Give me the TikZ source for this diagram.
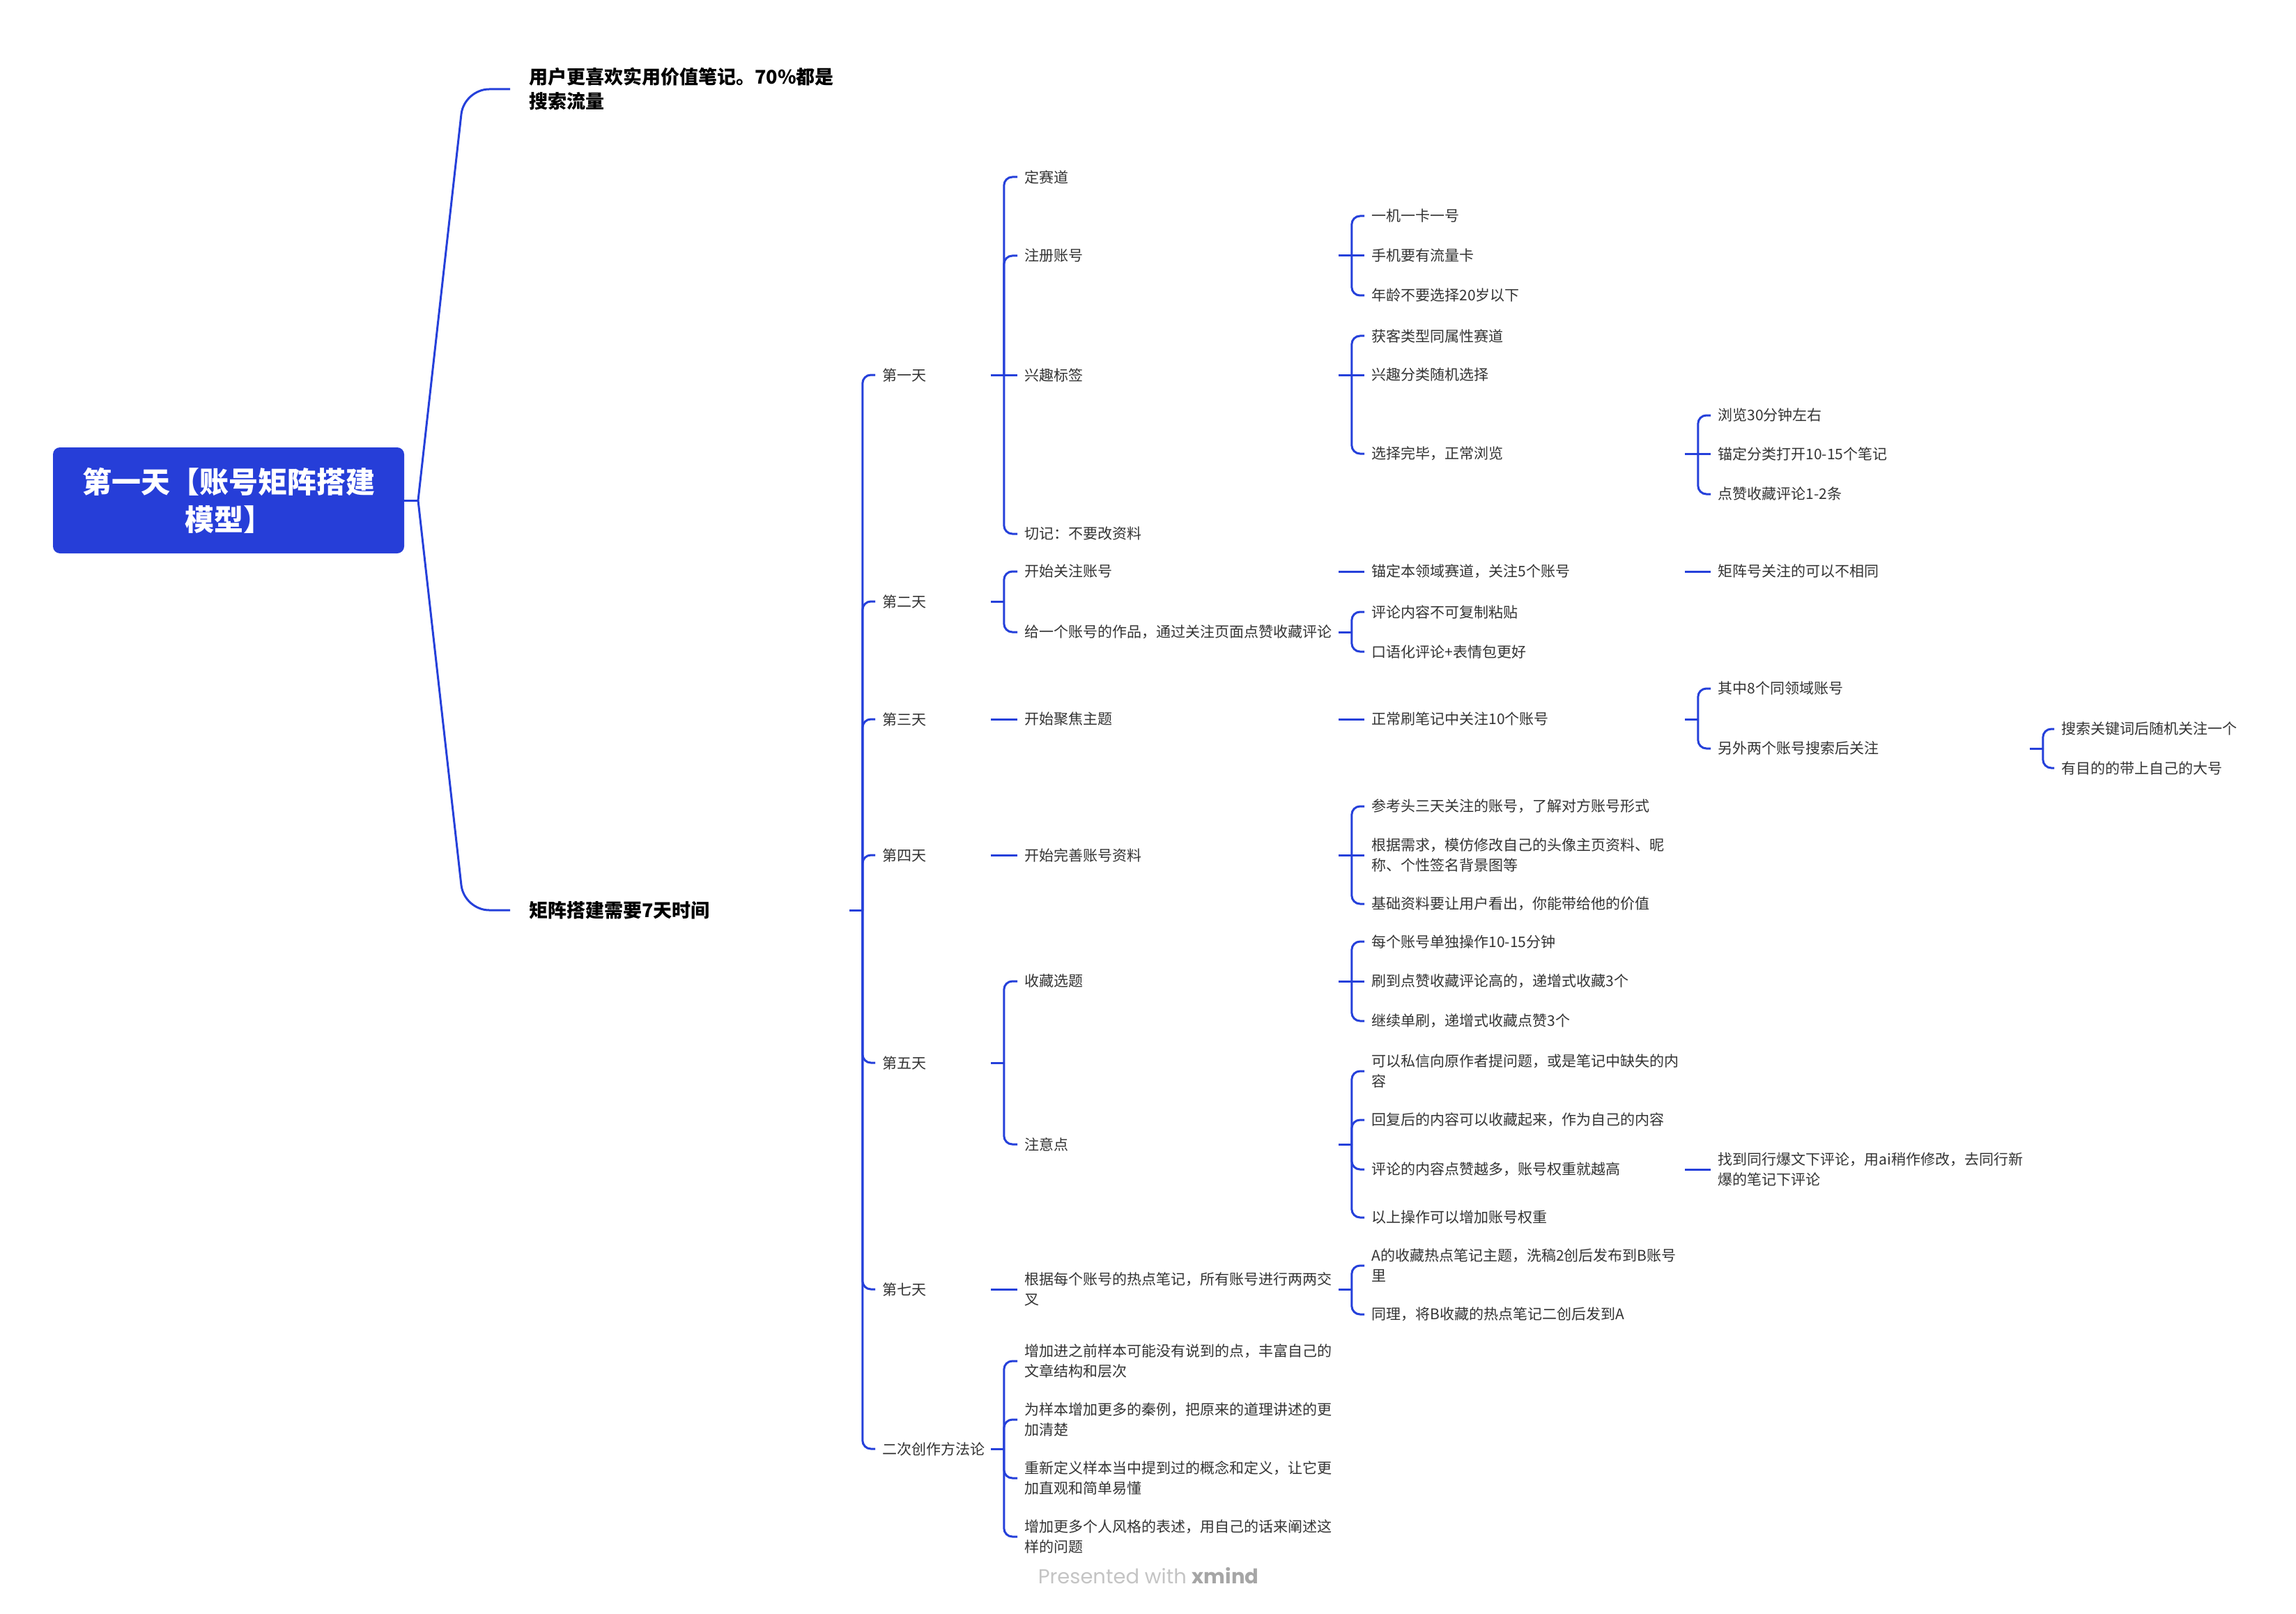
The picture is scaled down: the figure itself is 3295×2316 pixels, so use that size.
\documentclass[tikz,border=0pt]{standalone}
\usepackage{fontspec}
\setmainfont{Noto Sans CJK SC}
\newfontfamily\wmfont{Poppins}
\definecolor{lineblue}{HTML}{2540DA}
\definecolor{rootblue}{HTML}{263ED8}
\definecolor{txtgray}{HTML}{333333}
\definecolor{wmlight}{HTML}{C4C4C4}
\definecolor{wmdark}{HTML}{A6A6A6}
\newcommand\stub[1]{\draw[conn] (#1.east) -- ([xshift=9.5pt]#1.east);}
\newcommand\link[2]{\draw[conn] ([xshift=9.5pt]#1.east) |- (#2.west);}
\newcommand\straight[2]{\draw[conn] (#1.east) -- (#2.west);}
\begin{document}
\begin{tikzpicture}[x=0.5pt,y=-0.5pt,
  conn/.style={draw=lineblue, line width=1.5pt, rounded corners=6pt},
  rootconn/.style={draw=lineblue, line width=1.5pt, rounded corners=18pt},
  root/.style={fill=rootblue, rounded corners=5pt, minimum width=252pt, minimum height=76pt,
    inner sep=0pt, text=white, align=center, font=\bfseries\fontsize{21}{27}\selectfont},
  l1/.style={anchor=west, inner xsep=13.5pt, inner ysep=1pt, text width=216pt, align=left,
    text=black, font=\bfseries\fontsize{13.5}{17.5}\selectfont},
  t/.style={anchor=west, inner xsep=5pt, inner ysep=1pt, align=left, text=txtgray,
    font=\fontsize{10.5}{14.5}\selectfont},
  day/.style={t, text width=72.5pt},
  c3/.style={t, text width=220pt},
  c4/.style={t, text width=219.5pt},
  c5/.style={t, text width=218.5pt},
  c6/.style={t, text width=220pt}]
\useasboundingbox (0,0) rectangle (3295,2316);

% root
\node[root] (root) at (328,718) {第一天【账号矩阵搭建\\模型】};

% level 1
\node[l1] (l1a) at (732,128) {用户更喜欢实用价值笔记。70\%都是\\搜索流量};
\node[l1] (l1b) at (732,1306) {矩阵搭建需要7天时间};

\coordinate (ra) at (600,718);
\coordinate (bendA) at (666,128);
\coordinate (bendB) at (666,1306);
\draw[conn] (root.east) -- (ra);
\draw[rootconn] (ra) -- (bendA) -- (l1a.west);
\draw[rootconn] (ra) -- (bendB) -- (l1b.west);

% days
\node[day] (d1) at (1256,538) {第一天};
\node[day] (d2) at (1256,863) {第二天};
\node[day] (d3) at (1256,1032) {第三天};
\node[day] (d4) at (1256,1227) {第四天};
\node[day] (d5) at (1256,1525) {第五天};
\node[day] (d7) at (1256,1850) {第七天};
\node[day] (d8) at (1256,2079) {二次创作方法论};

% column 3
\node[c3] (c3a) at (1460,254) {定赛道};
\node[c3] (c3b) at (1460,367) {注册账号};
\node[c3] (c3c) at (1460,538) {兴趣标签};
\node[c3] (c3d) at (1460,766) {切记：不要改资料};
\node[c3] (c3e) at (1460,820) {开始关注账号};
\node[c3] (c3f) at (1460,907) {给一个账号的作品，通过关注页面点赞收藏评论};
\node[c3] (c3g) at (1460,1032) {开始聚焦主题};
\node[c3] (c3h) at (1460,1227) {开始完善账号资料};
\node[c3] (c3i) at (1460,1408) {收藏选题};
\node[c3] (c3j) at (1460,1642) {注意点};
\node[c3] (c3k) at (1460,1850) {根据每个账号的热点笔记，所有账号进行两两交\\叉};
\node[c3] (c3l) at (1460,1953) {增加进之前样本可能没有说到的点，丰富自己的\\文章结构和层次};
\node[c3] (c3m) at (1460,2037) {为样本增加更多的秦例，把原来的道理讲述的更\\加清楚};
\node[c3] (c3n) at (1460,2121) {重新定义样本当中提到过的概念和定义，让它更\\加直观和简单易懂};
\node[c3] (c3o) at (1460,2205) {增加更多个人风格的表述，用自己的话来阐述这\\样的问题};

% column 4
\node[c4] (c4a) at (1958,310) {一机一卡一号};
\node[c4] (c4b) at (1958,367) {手机要有流量卡};
\node[c4] (c4c) at (1958,424) {年龄不要选择20岁以下};
\node[c4] (c4d) at (1958,482) {获客类型同属性赛道};
\node[c4] (c4e) at (1958,538) {兴趣分类随机选择};
\node[c4] (c4f) at (1958,651) {选择完毕，正常浏览};
\node[c4] (c4g) at (1958,820) {锚定本领域赛道，关注5个账号};
\node[c4] (c4h) at (1958,878) {评论内容不可复制粘贴};
\node[c4] (c4i) at (1958,935) {口语化评论+表情包更好};
\node[c4] (c4j) at (1958,1032) {正常刷笔记中关注10个账号};
\node[c4] (c4k) at (1958,1157) {参考头三天关注的账号，了解对方账号形式};
\node[c4] (c4l) at (1958,1227) {根据需求，模仿修改自己的头像主页资料、昵\\称、个性签名背景图等};
\node[c4] (c4m) at (1958,1297) {基础资料要让用户看出，你能带给他的价值};
\node[c4] (c4n) at (1958,1351) {每个账号单独操作10-15分钟};
\node[c4] (c4o) at (1958,1408) {刷到点赞收藏评论高的，递增式收藏3个};
\node[c4] (c4p) at (1958,1465) {继续单刷，递增式收藏点赞3个};
\node[c4] (c4q) at (1958,1537) {可以私信向原作者提问题，或是笔记中缺失的内\\容};
\node[c4] (c4r) at (1958,1607) {回复后的内容可以收藏起来，作为自己的内容};
\node[c4] (c4s) at (1958,1678) {评论的内容点赞越多，账号权重就越高};
\node[c4] (c4t) at (1958,1747) {以上操作可以增加账号权重};
\node[c4] (c4u) at (1958,1816) {A的收藏热点笔记主题，洗稿2创后发布到B账号\\里};
\node[c4] (c4v) at (1958,1886) {同理，将B收藏的热点笔记二创后发到A};

% column 5
\node[c5] (c5a) at (2455,596) {浏览30分钟左右};
\node[c5] (c5b) at (2455,651) {锚定分类打开10-15个笔记};
\node[c5] (c5c) at (2455,709) {点赞收藏评论1-2条};
\node[c5] (c5d) at (2455,820) {矩阵号关注的可以不相同};
\node[c5] (c5e) at (2455,988) {其中8个同领域账号};
\node[c5] (c5f) at (2455,1074) {另外两个账号搜索后关注};
\node[c5] (c5g) at (2455,1678) {找到同行爆文下评论，用ai稍作修改，去同行新\\爆的笔记下评论};

% column 6
\node[c6] (c6a) at (2948,1046) {搜索关键词后随机关注一个};
\node[c6] (c6b) at (2948,1102) {有目的的带上自己的大号};

% connectors
\stub{l1b}
\link{l1b}{d1}\link{l1b}{d2}\link{l1b}{d3}\link{l1b}{d4}
\link{l1b}{d5}\link{l1b}{d7}\link{l1b}{d8}

\stub{d1}\link{d1}{c3a}\link{d1}{c3b}\link{d1}{c3d}\straight{d1}{c3c}
\stub{c3b}\link{c3b}{c4a}\link{c3b}{c4c}\straight{c3b}{c4b}
\stub{c3c}\link{c3c}{c4d}\link{c3c}{c4f}\straight{c3c}{c4e}
\stub{c4f}\link{c4f}{c5a}\link{c4f}{c5c}\straight{c4f}{c5b}

\stub{d2}\link{d2}{c3e}\link{d2}{c3f}
\straight{c3e}{c4g}\straight{c4g}{c5d}
\stub{c3f}\link{c3f}{c4h}\link{c3f}{c4i}

\straight{d3}{c3g}\straight{c3g}{c4j}
\stub{c4j}\link{c4j}{c5e}\link{c4j}{c5f}
\stub{c5f}\link{c5f}{c6a}\link{c5f}{c6b}

\straight{d4}{c3h}
\stub{c3h}\link{c3h}{c4k}\link{c3h}{c4m}\straight{c3h}{c4l}

\stub{d5}\link{d5}{c3i}\link{d5}{c3j}
\stub{c3i}\link{c3i}{c4n}\link{c3i}{c4p}\straight{c3i}{c4o}
\stub{c3j}\link{c3j}{c4q}\link{c3j}{c4r}\link{c3j}{c4s}\link{c3j}{c4t}
\straight{c4s}{c5g}

\straight{d7}{c3k}
\stub{c3k}\link{c3k}{c4u}\link{c3k}{c4v}

\stub{d8}\link{d8}{c3l}\link{d8}{c3m}\link{d8}{c3n}\link{d8}{c3o}

% watermark
\node[font=\wmfont\fontsize{14.5}{17}\selectfont, text=wmlight] (wm) at (1648,2261)
  {Presented with {\bfseries\color{wmdark}xmind}};
\end{tikzpicture}
\end{document}
